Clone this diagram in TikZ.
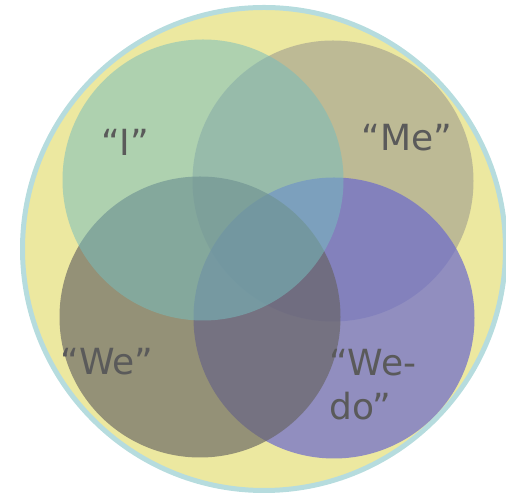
\documentclass[tikz,border=0pt]{standalone}
\usepackage{fontspec}
\newfontfamily\vennfont{DejaVu Sans}
\usepackage{xcolor}
\definecolor{bgyellow}{HTML}{ECE8A0}
\definecolor{rimblue}{HTML}{B6DCDE}
\definecolor{igreen}{RGB}{119,189,190}
\definecolor{metan}{RGB}{144,142,140}
\definecolor{weolive}{RGB}{103,100,98}
\definecolor{wedopurple}{RGB}{110,108,204}
\definecolor{lblgray}{HTML}{5A5A5A}

\begin{document}
\begin{tikzpicture}[x=1pt, y=1pt,
  set/.style={circle, minimum size=281pt, inner sep=0pt, draw=none},
  lbl/.style={font=\vennfont\fontsize{36}{44}\selectfont, text=lblgray, inner sep=0pt, align=left}]
  \useasboundingbox (0,0) rectangle (506,497);
  % outer ring
  \node[circle, minimum size=483pt, inner sep=0pt, fill=bgyellow, draw=rimblue, line width=5pt] (all) at (264,248) {};
  % the four sets
  \node[set, fill=metan, fill opacity=0.5] (me) at (333,316) {};
  \node[set, fill=wedopurple, fill opacity=0.72] (wedo) at (334,179) {};
  \node[set, fill=weolive, fill opacity=0.66] (we) at (200,180) {};
  \node[set, fill=igreen, fill opacity=0.53] (i) at (203,317) {};
  % labels
  \node[lbl] (ilbl) at (125,355) {“I”};
  \node[lbl] (melbl) at (407,359) {“Me”};
  \node[lbl] (welbl) at (107,135) {“We”};
  \node[lbl, anchor=west] (wedolbl) at (329,112) {“We-\\do”};
\end{tikzpicture}
\end{document}
